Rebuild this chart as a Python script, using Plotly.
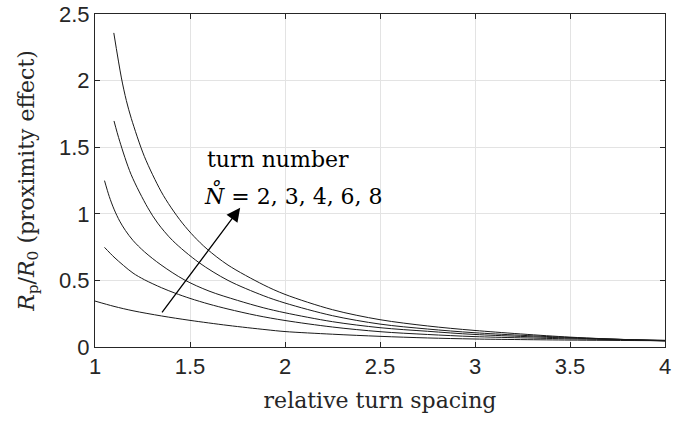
import plotly.graph_objects as go

# relative turn spacing (x) and R_p/R_0 values
x_n2 = [1.0, 1.1, 1.2, 1.35, 1.5, 1.7, 1.9, 2.0, 2.25, 2.5, 2.75, 3.0, 3.5, 4.0]
y_n2 = [0.345, 0.305, 0.272, 0.233, 0.200, 0.162, 0.130, 0.116, 0.096, 0.080, 0.068, 0.060, 0.052, 0.047]

x_n3 = [1.05, 1.1, 1.15, 1.2, 1.26, 1.35, 1.42, 1.5, 1.6, 1.7, 1.85, 2.0, 2.25, 2.5, 2.75, 3.0, 3.5, 4.0]
y_n3 = [0.748, 0.675, 0.612, 0.555, 0.505, 0.445, 0.405, 0.365, 0.322, 0.285, 0.237, 0.199, 0.150, 0.115, 0.094, 0.078, 0.061, 0.050]

x_n4 = [1.05, 1.075, 1.1, 1.13, 1.16, 1.2, 1.26, 1.347, 1.469, 1.6, 1.75, 1.885, 2.0, 2.25, 2.5, 2.75, 3.0, 3.5, 4.0]
y_n4 = [1.249, 1.130, 1.035, 0.945, 0.875, 0.800, 0.715, 0.617, 0.505, 0.420, 0.350, 0.295, 0.257, 0.190, 0.145, 0.118, 0.094, 0.067, 0.049]

x_n6 = [1.1, 1.13, 1.19, 1.278, 1.33, 1.408, 1.547, 1.7, 1.885, 2.0, 2.25, 2.5, 2.75, 3.0, 3.5, 4.0]
y_n6 = [1.697, 1.545, 1.295, 1.045, 0.930, 0.800, 0.634, 0.500, 0.386, 0.330, 0.235, 0.172, 0.135, 0.107, 0.071, 0.047]

x_n8 = [1.099, 1.139, 1.165, 1.191, 1.26, 1.347, 1.399, 1.46, 1.521, 1.59, 1.7, 1.885, 2.0, 2.25, 2.5, 2.75, 3.0, 3.5, 4.0]
y_n8 = [2.358, 2.020, 1.850, 1.716, 1.430, 1.170, 1.050, 0.930, 0.830, 0.735, 0.615, 0.468, 0.395, 0.280, 0.205, 0.158, 0.124, 0.074, 0.045]

series = [("N=2", x_n2, y_n2), ("N=3", x_n3, y_n3), ("N=4", x_n4, y_n4),
          ("N=6", x_n6, y_n6), ("N=8", x_n8, y_n8)]

x_ticks = [1, 1.5, 2, 2.5, 3, 3.5, 4]
y_ticks = [0, 0.5, 1, 1.5, 2, 2.5]

# arrow: tail and head (data coordinates)
arrow_tail = (1.347, 0.249)
arrow_head = (1.764, 1.045)

SERIF = "DejaVu Serif, serif"

fig = go.Figure()
for name, xs, ys in series:
    fig.add_trace(go.Scatter(x=xs, y=ys, mode="lines", name=name,
                             line=dict(color="#1a1a1a", width=1, shape="spline", smoothing=0.9),
                             showlegend=False, hoverinfo="skip"))

axis_common = dict(showline=True, linecolor="#262626", linewidth=1, mirror="ticks",
                   ticks="inside", ticklen=5, tickcolor="#262626",
                   showgrid=True, gridcolor="#e3e3e3", gridwidth=1, zeroline=False,
                   ticklabeloverflow="allow",
                   tickfont=dict(family="Liberation Sans, Arial", size=22, color="#262626"))

fig.update_xaxes(range=[1, 4], tickvals=x_ticks, ticktext=[f"{v:g}" for v in x_ticks],
                 title=dict(text="relative turn spacing",
                            font=dict(family=SERIF, size=22, color="#262626"),
                            standoff=14),
                 **axis_common)
fig.update_yaxes(range=[0, 2.5], tickvals=y_ticks, ticktext=[f"{v:g}" for v in y_ticks],
                 title=dict(text="<i>R</i><sub>p</sub>/<i>R</i><sub>0</sub> (proximity effect)",
                            font=dict(family=SERIF, size=22, color="#262626"),
                            standoff=18),
                 **axis_common)

fig.add_annotation(x=arrow_head[0], y=arrow_head[1], ax=arrow_tail[0], ay=arrow_tail[1],
                   xref="x", yref="y", axref="x", ayref="y", text="", showarrow=True,
                   arrowhead=2, arrowsize=2.1, arrowwidth=1.3, arrowcolor="#000000")

fig.add_annotation(x=1.58, y=1.41, xref="x", yref="y", xanchor="left", yanchor="middle",
                   text="turn number", showarrow=False,
                   font=dict(family=SERIF, size=22, color="#000000"))
fig.add_annotation(x=1.565, y=1.15, xref="x", yref="y", xanchor="left", yanchor="middle",
                   text="<i>N̊</i> = 2, 3, 4, 6, 8", showarrow=False,
                   font=dict(family=SERIF, size=22, color="#000000"))

fig.update_layout(width=673, height=423, margin=dict(l=95, r=2, t=11, b=76),
                  paper_bgcolor="white", plot_bgcolor="white")

fig.write_html("out.html")
